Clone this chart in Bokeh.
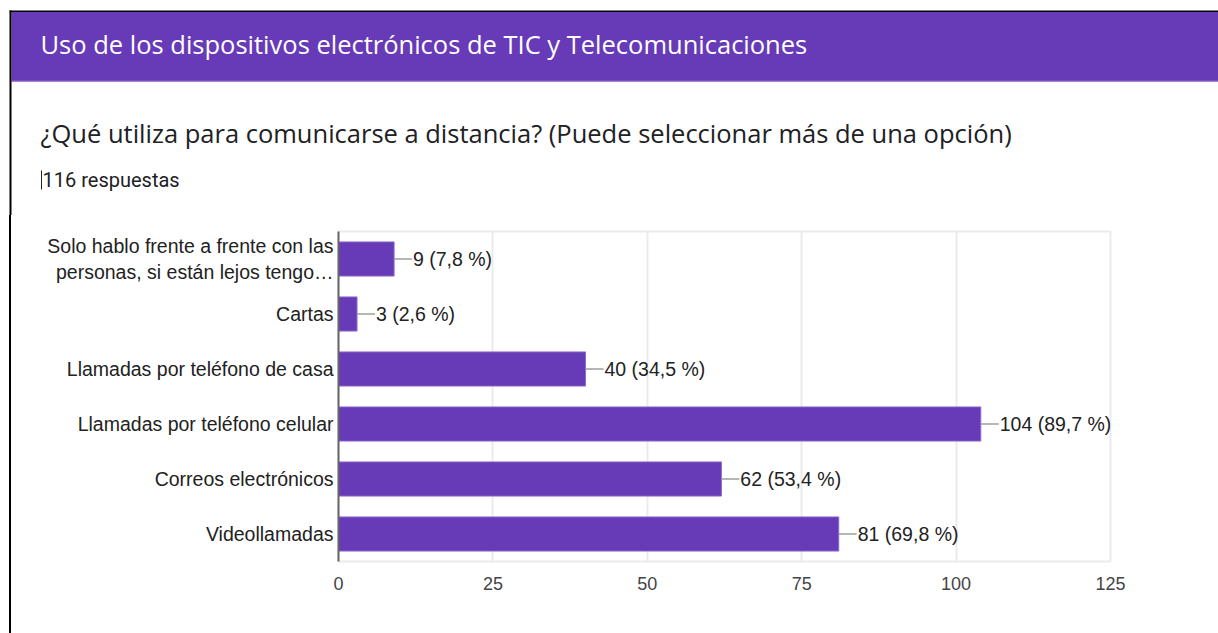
from bokeh.plotting import figure
from bokeh.models import Range1d, FactorRange, ColumnDataSource, FixedTicker
from bokeh.core.properties import value
from bokeh.embed import file_html
from bokeh.resources import INLINE

header_text = "Uso de los dispositivos electrónicos de TIC y Telecomunicaciones"
question = "¿Qué utiliza para comunicarse a distancia? (Puede seleccionar más de una opción)"
responses = "116 respuestas"

categories = [
    "Solo hablo frente a frente con las\npersonas, si están lejos tengo…",
    "Cartas",
    "Llamadas por teléfono de casa",
    "Llamadas por teléfono celular",
    "Correos electrónicos",
    "Videollamadas",
]
counts = [9, 3, 40, 104, 62, 81]
percents = ["7,8", "2,6", "34,5", "89,7", "53,4", "69,8"]
x_ticks = [0, 25, 50, 75, 100, 125]

PURPLE = "#673ab7"

# ---------- top part: header band and question (pixel-like data space) ----------
TW, TH = 1218, 215
top = figure(width=TW, height=TH, x_range=Range1d(0, TW), y_range=Range1d(TH, 0),
             output_backend="svg", toolbar_location=None, min_border=0,
             outline_line_color=None)
top.axis.visible = False
top.grid.visible = False
top.quad(left=[11], right=[TW], top=[11.5], bottom=[81], fill_color=PURPLE, line_color=None)
top.quad(left=[11], right=[TW], top=[80], bottom=[81], fill_color="#8e6acb", line_color=None)
top.quad(left=[9], right=[TW], top=[10], bottom=[11.5], fill_color="#000000", line_color=None)
top.quad(left=[9], right=[11], top=[10], bottom=[TH], fill_color="#000000", line_color=None)
top.quad(left=[40.5], right=[41.5], top=[170], bottom=[189], fill_color="#202124", line_color=None)
top.text(x=[40], y=[43], text=[header_text], text_color="white",
         text_font=value("Open Sans"), text_font_size="25.5px", text_baseline="middle")
top.text(x=[40], y=[132], text=[question], text_color="#202124",
         text_font=value("Open Sans"), text_font_size="25.5px", text_baseline="middle")
top.text(x=[42], y=[179], text=[responses], text_color="#202124",
         text_font=value("Roboto"), text_font_size="20px", text_baseline="middle")

# ---------- main chart ----------
W, H = 1207, 418
factors = list(reversed(categories))
p = figure(width=W, height=H, y_range=FactorRange(factors=factors),
           x_range=Range1d(0, 125), output_backend="svg", toolbar_location=None,
           min_border_left=327, min_border_right=108, min_border_top=16,
           min_border_bottom=72, outline_line_color="#ebebeb", outline_line_width=2,
           styles={"margin-left": "9px", "border-left": "2px solid black"})

src = ColumnDataSource(dict(
    cat=categories, val=counts,
    lead_end=[v + 2.9 for v in counts],
    label=[f"{c} ({pc} %)" for c, pc in zip(counts, percents)],
))
p.hbar(y="cat", right="val", left=0, height=0.62, source=src,
       fill_color=PURPLE, line_color="#8e6acb", line_width=1)
p.segment(x0="val", x1="lead_end", y0="cat", y1="cat", source=src,
          line_color="#9e9e9e", line_width=1.5)
p.text(x="lead_end", y="cat", text="label", source=src,
       text_font=value("Liberation Sans"), text_font_size="19.5px",
       text_color="#222222", text_baseline="middle", text_align="left", x_offset=1)

p.xaxis.ticker = FixedTicker(ticks=x_ticks)
p.xaxis.axis_line_color = None
p.xaxis.major_tick_line_color = None
p.xaxis.minor_tick_line_color = None
p.xaxis.major_label_text_font = "Liberation Sans"
p.xaxis.major_label_text_font_size = "18px"
p.xaxis.major_label_text_color = "#444444"
p.xaxis.major_label_standoff = 9

p.yaxis.axis_line_color = "#666666"
p.yaxis.axis_line_width = 2
p.yaxis.major_tick_line_color = None
p.yaxis.minor_tick_line_color = None
p.yaxis.major_label_text_font = "Liberation Sans"
p.yaxis.major_label_text_font_size = "19.5px"
p.yaxis.major_label_text_color = "#222222"
p.yaxis.major_label_standoff = -1

p.xgrid.ticker = FixedTicker(ticks=x_ticks)
p.xgrid.grid_line_color = "#ebebeb"
p.xgrid.grid_line_width = 2
p.ygrid.grid_line_color = None

open("out.html", "w").write(file_html([top, p], INLINE))
